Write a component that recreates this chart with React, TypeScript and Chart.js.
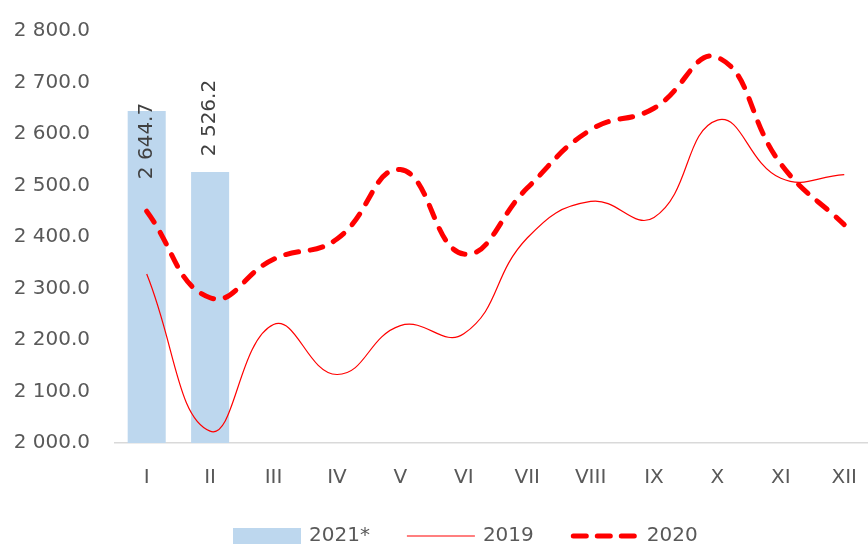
import { useEffect, useRef } from "react";
import { Chart, registerables } from "chart.js";

Chart.register(...registerables);

const categories = ["I", "II", "III", "IV", "V", "VI", "VII", "VIII", "IX", "X", "XI", "XII"];
const values2021 = [2644.7, 2526.2, null, null, null, null, null, null, null, null, null, null];
const values2019 = [2328, 2023, 2230, 2133, 2228, 2212, 2398, 2469, 2438, 2627, 2514, 2521];
const values2020 = [2450, 2282, 2357, 2396, 2531, 2367, 2495, 2608, 2650, 2749, 2542, 2424];
const yMin = 2000;
const yMax = 2800;
const yStep = 100;
const seriesNames = ["2021*", "2019", "2020"];

const FONT = "'DejaVu Sans', sans-serif";
const TEXT = "#595959";
const BAR = "#BDD7EE";
const RED = "#FF0000";

function fmt(v: number): string {
  const s = v.toFixed(1);
  const [i, d] = s.split(".");
  return i.replace(/\B(?=(\d{3})+(?!\d))/g, " ") + "." + d;
}

const barLabelOffsets = [30, -54];

const barLabelPlugin = {
  id: "barLabels",
  afterDatasetsDraw(chart: any) {
    const meta = chart.getDatasetMeta(0);
    const ctx = chart.ctx;
    ctx.save();
    ctx.font = `20px ${FONT}`;
    ctx.fillStyle = "#404040";
    ctx.textAlign = "center";
    ctx.textBaseline = "middle";
    meta.data.forEach((el: any, i: number) => {
      const v = values2021[i];
      if (v == null) return;
      ctx.save();
      ctx.translate(el.x, el.y + (barLabelOffsets[i] ?? -40));
      ctx.rotate(-Math.PI / 2);
      ctx.fillText(fmt(v), 0, 0);
      ctx.restore();
    });
    ctx.restore();
  },
};

const legendPlugin = {
  id: "customLegend",
  afterDraw(chart: any) {
    const ctx = chart.ctx;
    const area = chart.chartArea;
    ctx.save();
    ctx.font = `20px ${FONT}`;
    ctx.fillStyle = TEXT;
    ctx.textBaseline = "middle";
    const cy = chart.height - 9;
    let x = area.left + 118;
    const sampleW = 68;
    const gapText = 8;
    const gapItem = 37;
    ctx.fillStyle = BAR;
    ctx.fillRect(x, cy - 8, sampleW, 16);
    x += sampleW + gapText;
    ctx.fillStyle = TEXT;
    ctx.fillText(seriesNames[0], x, cy);
    x += ctx.measureText(seriesNames[0]).width + gapItem;
    ctx.strokeStyle = RED;
    ctx.lineWidth = 1.2;
    ctx.beginPath();
    ctx.moveTo(x, cy);
    ctx.lineTo(x + sampleW, cy);
    ctx.stroke();
    x += sampleW + gapText;
    ctx.fillText(seriesNames[1], x, cy);
    x += ctx.measureText(seriesNames[1]).width + gapItem;
    ctx.lineWidth = 5;
    ctx.lineCap = "round";
    ctx.setLineDash([13, 11]);
    ctx.beginPath();
    ctx.moveTo(x + 2.5, cy);
    ctx.lineTo(x + sampleW - 2.5, cy);
    ctx.stroke();
    ctx.setLineDash([]);
    x += sampleW + gapText;
    ctx.fillText(seriesNames[2], x, cy);
    ctx.restore();
  },
};

export default function App() {
  const ref = useRef<HTMLCanvasElement | null>(null);

  useEffect(() => {
    if (!ref.current) return;
    const chart = new Chart(ref.current, {
      type: "bar",
      data: {
        labels: categories,
        datasets: [
          {
            type: "bar",
            label: seriesNames[0],
            data: values2021 as any,
            backgroundColor: BAR,
            barPercentage: 0.6,
            categoryPercentage: 1,
            order: 3,
          },
          {
            type: "line",
            label: seriesNames[1],
            data: values2019,
            borderColor: RED,
            borderWidth: 1.2,
            pointRadius: 0,
            tension: 0.45,
            fill: false,
            order: 2,
          },
          {
            type: "line",
            label: seriesNames[2],
            data: values2020,
            borderColor: RED,
            borderWidth: 5,
            borderDash: [13, 12],
            borderCapStyle: "round",
            pointRadius: 0,
            tension: 0.45,
            fill: false,
            order: 1,
          },
        ] as any,
      },
      options: {
        animation: false,
        responsive: false,
        devicePixelRatio: 1,
        layout: { padding: { top: 23, left: 0, right: 0, bottom: 0 } },
        plugins: {
          legend: { display: false },
          tooltip: { enabled: false },
        },
        scales: {
          x: {
            grid: { display: false, drawTicks: false },
            border: { display: true, color: "#D9D9D9", width: 1.5 },
            ticks: { color: TEXT, font: { family: FONT, size: 20 }, padding: 23 },
            afterFit(scale: any) {
              scale.height = 102;
            },
          },
          y: {
            min: yMin,
            max: yMax,
            grid: { display: false, drawTicks: false },
            border: { display: false },
            ticks: {
              stepSize: yStep,
              color: TEXT,
              font: { family: FONT, size: 20 },
              padding: 25,
              callback: (v: any) => fmt(Number(v)),
            },
            afterFit(scale: any) {
              scale.width = 115;
            },
          },
        },
      },
      plugins: [barLabelPlugin, legendPlugin],
    });
    return () => chart.destroy();
  }, []);

  return (
    <div style={{ position: "fixed", left: 0, top: 0, width: 868, height: 545, overflow: "hidden", background: "#fff" }}>
      <canvas ref={ref} width={880} height={551} style={{ width: 880, height: 551, display: "block", marginTop: -6 }} />
    </div>
  );
}
